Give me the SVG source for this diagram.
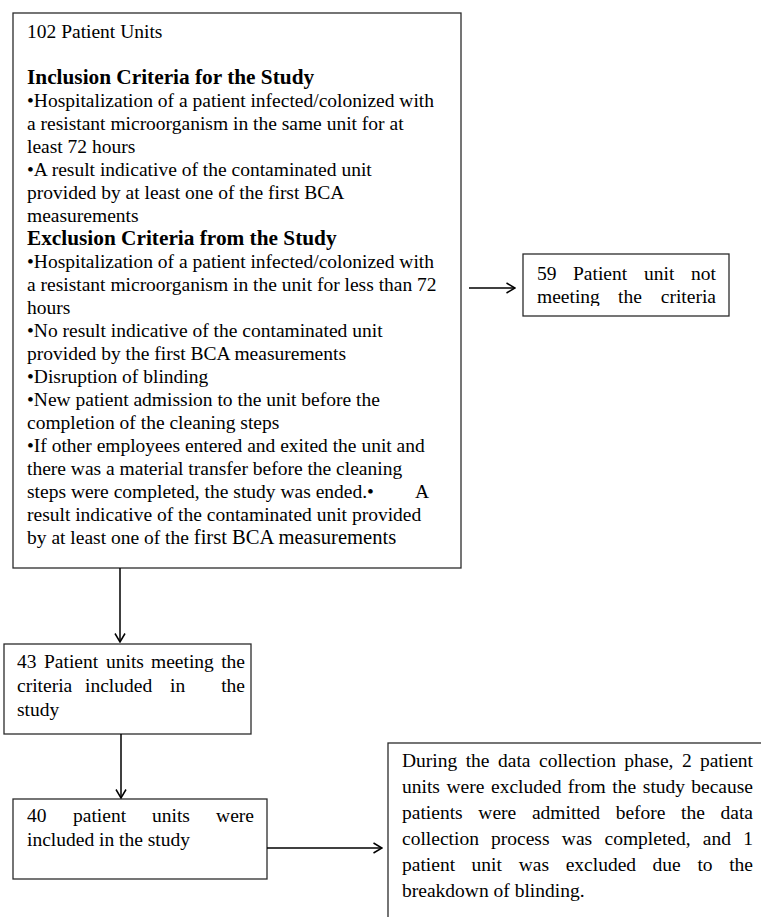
<svg xmlns="http://www.w3.org/2000/svg" width="761" height="917" viewBox="0 0 761 917">
<style>
.box{fill:#fff;stroke:#2b2b2b;stroke-width:1.3}
.t{font-family:"Liberation Serif","Times New Roman",serif;font-size:19.5px;fill:#000}
.b{font-family:"Liberation Serif","Times New Roman",serif;font-size:21.3px;font-weight:bold;fill:#000}
.e{text-anchor:end}
.conn{stroke:#000;stroke-width:1.5;fill:none}
</style>
<defs>
<marker id="ah" viewBox="0 0 10 12" markerUnits="userSpaceOnUse" markerWidth="10" markerHeight="12" refX="9.5" refY="6" orient="auto">
<path d="M1,1 L9.5,6 L1,11" fill="none" stroke="#000" stroke-width="1.5"/>
</marker>
<clipPath id="c59"><rect x="523" y="254" width="206" height="52"/></clipPath>
</defs>
<rect width="761" height="917" fill="#fff"/>

<g id="n-main">
<rect class="box" x="13" y="13" width="448" height="555"/>
<text class="t" x="27" y="38">102 Patient Units</text>
<text class="b" x="27" y="84">Inclusion Criteria for the Study</text>
<text class="t" x="27" y="107">•Hospitalization of a patient infected/colonized with</text>
<text class="t" x="27" y="130">a resistant microorganism in the same unit for at</text>
<text class="t" x="27" y="153">least 72 hours</text>
<text class="t" x="27" y="176">•A result indicative of the contaminated unit</text>
<text class="t" x="27" y="199">provided by at least one of the first BCA</text>
<text class="t" x="27" y="222">measurements</text>
<text class="b" x="27" y="245">Exclusion Criteria from the Study</text>
<text class="t" x="27" y="268">•Hospitalization of a patient infected/colonized with</text>
<text class="t" x="27" y="291">a resistant microorganism in the unit for less than 72</text>
<text class="t" x="27" y="314">hours</text>
<text class="t" x="27" y="337">•No result indicative of the contaminated unit</text>
<text class="t" x="27" y="360">provided by the first BCA measurements</text>
<text class="t" x="27" y="383">•Disruption of blinding</text>
<text class="t" x="27" y="406">•New patient admission to the unit before the</text>
<text class="t" x="27" y="429">completion of the cleaning steps</text>
<text class="t" x="27" y="452">•If other employees entered and exited the unit and</text>
<text class="t" x="27" y="475">there was a material transfer before the cleaning</text>
<text class="t" x="27" y="498">steps were completed, the study was ended.•</text>
<text class="t" x="415" y="498">A</text>
<text class="t" x="27" y="521">result indicative of the contaminated unit provided</text>
<text class="t" x="27" y="544">by at least one of the <tspan style="font-size:20.6px">first BCA measurements</tspan></text>
</g>

<g id="n-59">
<rect class="box" x="523" y="254" width="206" height="62"/>
<g clip-path="url(#c59)">
<text class="t" x="537" y="280">59</text>
<text class="t" x="573" y="280">Patient</text>
<text class="t" x="644" y="280">unit</text>
<text class="t e" x="716" y="280">not</text>
<text class="t" x="537" y="303">meeting</text>
<text class="t" x="618" y="303">the</text>
<text class="t e" x="716" y="303">criteria</text>
</g>
</g>

<g id="n-43">
<rect class="box" x="4" y="644" width="247" height="90"/>
<text class="t" x="17" y="668">43</text>
<text class="t" x="44" y="668">Patient</text>
<text class="t" x="106" y="668">units</text>
<text class="t" x="151" y="668">meeting</text>
<text class="t e" x="245" y="668">the</text>
<text class="t" x="17" y="692">criteria</text>
<text class="t" x="85" y="692">included</text>
<text class="t" x="170" y="692">in</text>
<text class="t e" x="245" y="692">the</text>
<text class="t" x="17" y="716">study</text>
</g>

<g id="n-40">
<rect class="box" x="13" y="799" width="254" height="80"/>
<text class="t" x="27" y="822">40</text>
<text class="t" x="73" y="822">patient</text>
<text class="t" x="152" y="822">units</text>
<text class="t e" x="254" y="822">were</text>
<text class="t" x="27" y="846">included in the study</text>
</g>

<g id="n-excluded">
<rect class="box" x="388" y="743" width="390" height="190"/>
<text class="t" x="402" y="767">During</text>
<text class="t" x="465.7" y="767">the</text>
<text class="t" x="498" y="767">data</text>
<text class="t" x="539" y="767">collection</text>
<text class="t" x="624.2" y="767">phase,</text>
<text class="t" x="681.9" y="767">2</text>
<text class="t e" x="753" y="767">patient</text>
<text class="t" x="402" y="793">units</text>
<text class="t" x="446.5" y="793">were</text>
<text class="t" x="491" y="793">excluded</text>
<text class="t" x="567.8" y="793">from</text>
<text class="t" x="612.3" y="793">the</text>
<text class="t" x="642.8" y="793">study</text>
<text class="t e" x="753" y="793">because</text>
<text class="t" x="402" y="819">patients</text>
<text class="t" x="478.3" y="819">were</text>
<text class="t" x="531.9" y="819">admitted</text>
<text class="t" x="615.7" y="819">before</text>
<text class="t" x="681.1" y="819">the</text>
<text class="t e" x="753" y="819">data</text>
<text class="t" x="402" y="845">collection</text>
<text class="t" x="491" y="845">process</text>
<text class="t" x="561.8" y="845">was</text>
<text class="t" x="604.5" y="845">completed,</text>
<text class="t" x="702.8" y="845">and</text>
<text class="t e" x="753" y="845">1</text>
<text class="t" x="402" y="871">patient</text>
<text class="t" x="471.6" y="871">unit</text>
<text class="t" x="518.7" y="871">was</text>
<text class="t" x="565.7" y="871">excluded</text>
<text class="t" x="652.5" y="871">due</text>
<text class="t" x="697.4" y="871">to</text>
<text class="t e" x="753" y="871">the</text>
<text class="t" x="402" y="897">breakdown of blinding.</text>
</g>

<g id="connectors">
<line class="conn" x1="120" y1="568" x2="120" y2="642" marker-end="url(#ah)"/>
<line class="conn" x1="469" y1="288" x2="515" y2="288" marker-end="url(#ah)"/>
<line class="conn" x1="121" y1="734" x2="121" y2="798" marker-end="url(#ah)"/>
<line class="conn" x1="267" y1="848" x2="382" y2="848" marker-end="url(#ah)"/>
</g>
</svg>
